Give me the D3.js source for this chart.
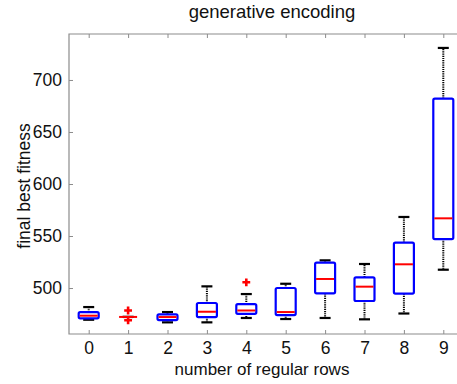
<!DOCTYPE html>
<html>
<head>
<meta charset="utf-8">
<script src="https://cdn.jsdelivr.net/npm/d3@7"></script>
<style>
  body { margin: 0; background: #fff; }
  svg { display: block; font-family: "Liberation Sans", Arial, sans-serif; }
</style>
</head>
<body>
<svg width="457" height="384"></svg>
<script>
// box statistics per number of regular rows
const rows      = [0, 1, 2, 3, 4, 5, 6, 7, 8, 9];
const whiskerLo = [469.5, 472.2, 467.0, 467.0, 471.2, 470.2, 471.2, 469.9, 475.5, 517.6];
const q1        = [470.9, 472.2, 469.2, 472.1, 475.2, 474.0, 494.9, 487.5, 494.7, 547.1];
const median    = [473.4, 472.2, 472.1, 477.2, 478.4, 476.9, 508.7, 501.3, 522.8, 567.0];
const q3        = [476.9, 472.2, 474.7, 485.6, 484.5, 500.0, 524.4, 510.3, 543.6, 682.0];
const whiskerHi = [481.7, 472.2, 476.9, 501.6, 494.2, 504.1, 526.6, 523.1, 568.3, 730.8];
const outliers  = [[], [478.4, 469.0], [], [], [505.5], [], [], [], [], []];
const yTicks = [500, 550, 600, 650, 700];

window.onload = () => {
	const svg = d3.select("svg");
	const margin = { top: 34, left: 69, bottom: 334, right: 463 };

	const data = rows.map((r, i) => ({
		x: r, lo: whiskerLo[i], q1: q1[i], med: median[i], q3: q3[i], hi: whiskerHi[i], out: outliers[i]
	}));

	const xScale = d3.scaleLinear().domain([-0.5, 9.5]).range([margin.left, margin.right]);
	const yScale = d3.scaleLinear().domain([455.8, 744.2]).range([margin.bottom, margin.top]);

	const boxW = 20, capW = 11;
	const frame = "#8c8c8c";

	// frame lines (left, top, bottom)
	svg.append("path")
		.attr("d", `M${margin.right},${margin.top}H${margin.left}V${margin.bottom}H${margin.right}`)
		.attr("fill", "none").attr("stroke", frame).attr("stroke-width", 1.2);

	// axes with inward ticks
	const xAxis = d3.axisBottom(xScale).tickValues(rows).tickSize(-4).tickPadding(8).tickFormat(d3.format("d"));
	const gx = svg.append("g").attr("transform", `translate(0,${margin.bottom})`).call(xAxis);
	const gxTop = svg.append("g").attr("transform", `translate(0,${margin.top})`)
		.call(d3.axisTop(xScale).tickValues(rows).tickSize(-4).tickFormat(""));
	const yAxis = d3.axisLeft(yScale).tickValues(yTicks).tickSize(-4).tickPadding(7);
	const gy = svg.append("g").attr("transform", `translate(${margin.left},0)`).call(yAxis);

	[gx, gxTop, gy].forEach(g => {
		g.select(".domain").remove();
		g.selectAll(".tick line").attr("stroke", frame).attr("stroke-width", 1);
		g.selectAll("text").attr("font-size", 17.5).attr("fill", "#111")
			.attr("font-family", "Liberation Sans, Arial, sans-serif");
	});

	// whiskers (dotted)
	const g = svg.append("g");
	g.selectAll(".wu").data(data).enter().append("line")
		.attr("x1", d => xScale(d.x)).attr("x2", d => xScale(d.x))
		.attr("y1", d => yScale(d.q3)).attr("y2", d => yScale(d.hi))
		.attr("stroke", "#000").attr("stroke-width", 2).attr("stroke-dasharray", "1.2,1");
	g.selectAll(".wl").data(data).enter().append("line")
		.attr("x1", d => xScale(d.x)).attr("x2", d => xScale(d.x))
		.attr("y1", d => yScale(d.q1)).attr("y2", d => yScale(d.lo))
		.attr("stroke", "#000").attr("stroke-width", 2).attr("stroke-dasharray", "1.2,1");

	// caps
	["lo", "hi"].forEach(k => {
		g.selectAll(".cap-" + k).data(data).enter().append("line")
			.attr("x1", d => xScale(d.x) - capW / 2).attr("x2", d => xScale(d.x) + capW / 2)
			.attr("y1", d => yScale(d[k])).attr("y2", d => yScale(d[k]))
			.attr("stroke", "#000").attr("stroke-width", 2.2);
	});

	// boxes
	g.selectAll(".box").data(data).enter().append("rect")
		.attr("x", d => xScale(d.x) - boxW / 2)
		.attr("width", boxW)
		.attr("y", d => yScale(d.q3))
		.attr("height", d => yScale(d.q1) - yScale(d.q3))
		.attr("rx", 1.5)
		.attr("fill", "none").attr("stroke", "#0000ff").attr("stroke-width", 2.2);

	// medians
	g.selectAll(".med").data(data).enter().append("line")
		.attr("x1", d => xScale(d.x) - boxW / 2 + 1).attr("x2", d => xScale(d.x) + boxW / 2 - 1)
		.attr("y1", d => yScale(d.med)).attr("y2", d => yScale(d.med))
		.attr("stroke", "#ff0000").attr("stroke-width", 2);

	// outliers as red plus signs
	const outPts = data.flatMap(d => d.out.map(v => ({ x: d.x, y: v })));
	g.selectAll(".out").data(outPts).enter().append("path")
		.attr("d", d3.symbol().type(d3.symbolCross).size(34)())
		.attr("transform", d => `translate(${xScale(d.x)},${yScale(d.y)})`)
		.attr("fill", "#ff0000");

	// title and labels
	svg.append("text")
		.attr("x", 272).attr("y", 18)
		.attr("text-anchor", "middle").attr("font-size", 18.5).attr("fill", "#111")
		.text("generative encoding");

	svg.append("text")
		.attr("x", 262).attr("y", 375)
		.attr("text-anchor", "middle").attr("font-size", 17).attr("fill", "#111")
		.text("number of regular rows");

	svg.append("text")
		.attr("transform", "rotate(-90)")
		.attr("x", -186).attr("y", 30)
		.attr("text-anchor", "middle").attr("font-size", 17.5).attr("fill", "#111")
		.text("final best fitness");
};
</script>
</body>
</html>
